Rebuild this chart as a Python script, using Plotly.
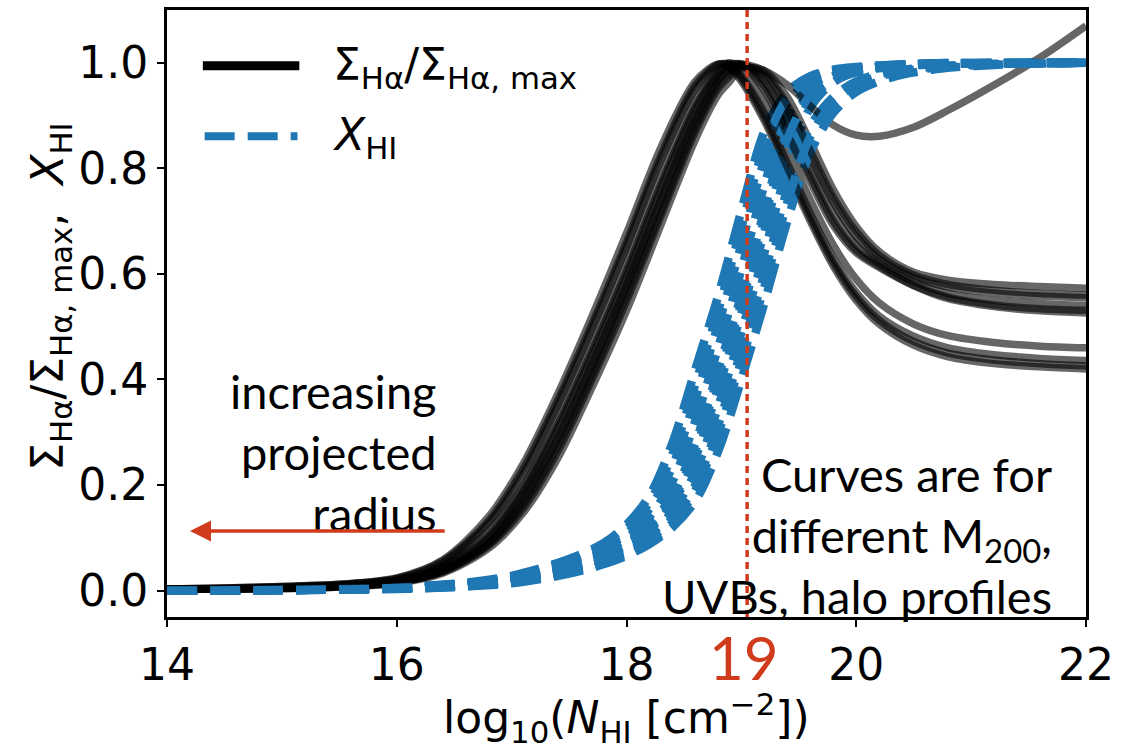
import plotly.graph_objects as go

# log10 column density grids
log_nhi_sigma = [14.0, 14.5, 15.0, 15.5, 16.0, 16.4, 16.8, 17.1, 17.4, 17.7, 18.0, 18.3, 18.6,
                 18.8, 18.9, 19.0, 19.2, 19.4, 19.6, 19.8, 20.0, 20.2, 20.5, 20.8, 21.2, 21.6, 22.0]
log_nhi_xhi = [14.0, 15.0, 16.0, 16.5, 17.0, 17.5, 17.8, 18.0, 18.2, 18.4, 18.6, 18.8, 19.0,
               19.2, 19.4, 19.6, 19.8, 20.0, 20.3, 20.7, 21.2, 22.0]

# normalised H-alpha surface brightness, one list per model
sigma_1 = [0.003, 0.005, 0.008, 0.012, 0.024, 0.058, 0.14, 0.24, 0.372, 0.52, 0.677, 0.84, 0.965,
           0.998, 0.99, 0.965, 0.89, 0.795, 0.70, 0.615, 0.55, 0.505, 0.465, 0.443, 0.43, 0.424, 0.42]
sigma_2 = [0.003, 0.004, 0.007, 0.011, 0.022, 0.053, 0.127, 0.22, 0.35, 0.495, 0.65, 0.815, 0.95,
           0.995, 0.998, 0.975, 0.905, 0.81, 0.715, 0.63, 0.565, 0.52, 0.482, 0.46, 0.447, 0.44, 0.436]
sigma_3 = [0.003, 0.004, 0.006, 0.01, 0.02, 0.047, 0.113, 0.2, 0.327, 0.47, 0.622, 0.787, 0.93,
           0.987, 1.0, 0.985, 0.925, 0.835, 0.74, 0.655, 0.59, 0.545, 0.505, 0.483, 0.47, 0.463, 0.46]
sigma_4 = [0.002, 0.003, 0.005, 0.009, 0.018, 0.042, 0.1, 0.185, 0.305, 0.445, 0.595, 0.76, 0.91,
           0.978, 0.995, 0.998, 0.955, 0.875, 0.785, 0.70, 0.645, 0.615, 0.578, 0.553, 0.538, 0.53, 0.526]
sigma_5 = [0.002, 0.003, 0.005, 0.008, 0.016, 0.039, 0.094, 0.175, 0.29, 0.43, 0.58, 0.743, 0.897,
           0.97, 0.99, 0.997, 0.965, 0.89, 0.80, 0.715, 0.655, 0.62, 0.585, 0.563, 0.55, 0.544, 0.54]
sigma_6 = [0.002, 0.003, 0.004, 0.008, 0.015, 0.036, 0.088, 0.163, 0.273, 0.41, 0.56, 0.72, 0.88,
           0.96, 0.982, 0.995, 0.975, 0.91, 0.82, 0.735, 0.67, 0.628, 0.593, 0.575, 0.564, 0.558, 0.555]
sigma_7 = [0.002, 0.003, 0.004, 0.007, 0.014, 0.033, 0.08, 0.147, 0.25, 0.385, 0.53, 0.693, 0.855,
           0.94, 0.965, 0.99, 0.985, 0.935, 0.85, 0.76, 0.69, 0.642, 0.603, 0.588, 0.58, 0.576, 0.573]
sigma_8 = [0.002, 0.003, 0.005, 0.008, 0.016, 0.038, 0.091, 0.17, 0.283, 0.42, 0.57, 0.733, 0.888,
           0.965, 0.987, 0.997, 0.985, 0.958, 0.918, 0.882, 0.863, 0.861, 0.878, 0.91, 0.958, 1.01, 1.07]
sigma_9 = [0.002, 0.003, 0.005, 0.009, 0.019, 0.044, 0.105, 0.192, 0.314, 0.455, 0.606, 0.77, 0.918,
           0.982, 0.997, 0.996, 0.948, 0.865, 0.775, 0.692, 0.64, 0.612, 0.578, 0.556, 0.541, 0.534, 0.531]
sigma_10 = [0.002, 0.003, 0.004, 0.007, 0.015, 0.035, 0.085, 0.155, 0.263, 0.4, 0.548, 0.71, 0.87,
            0.952, 0.975, 0.993, 0.98, 0.92, 0.833, 0.745, 0.68, 0.635, 0.598, 0.58, 0.569, 0.563, 0.56]
sigma_11 = [0.003, 0.005, 0.008, 0.012, 0.023, 0.056, 0.132, 0.23, 0.36, 0.505, 0.66, 0.825, 0.958,
            0.997, 0.995, 0.97, 0.897, 0.802, 0.707, 0.622, 0.557, 0.512, 0.472, 0.45, 0.437, 0.43, 0.426]

# neutral hydrogen fraction, one list per model
xhi_1 = [0.0, 0.002, 0.007, 0.013, 0.028, 0.06, 0.09, 0.125, 0.18, 0.28, 0.42, 0.56, 0.72,
         0.87, 0.945, 0.975, 0.987, 0.992, 0.996, 0.999, 1.0, 1.0]
xhi_2 = [0.0, 0.001, 0.006, 0.012, 0.025, 0.054, 0.08, 0.108, 0.155, 0.235, 0.365, 0.505, 0.655,
         0.815, 0.924, 0.966, 0.983, 0.99, 0.995, 0.998, 0.999, 1.0]
xhi_3 = [0.0, 0.001, 0.005, 0.011, 0.022, 0.049, 0.074, 0.099, 0.14, 0.207, 0.322, 0.462, 0.608,
         0.768, 0.897, 0.956, 0.979, 0.989, 0.995, 0.998, 0.999, 1.0]
xhi_4 = [0.0, 0.001, 0.005, 0.01, 0.02, 0.045, 0.068, 0.09, 0.125, 0.18, 0.28, 0.42, 0.56,
         0.72, 0.87, 0.945, 0.975, 0.987, 0.994, 0.998, 0.999, 1.0]
xhi_5 = [0.0, 0.001, 0.005, 0.009, 0.019, 0.042, 0.064, 0.084, 0.115, 0.165, 0.252, 0.385, 0.525,
         0.68, 0.835, 0.93, 0.969, 0.985, 0.993, 0.997, 0.999, 1.0]
xhi_6 = [0.0, 0.001, 0.004, 0.009, 0.018, 0.039, 0.06, 0.078, 0.105, 0.15, 0.225, 0.35, 0.49,
         0.64, 0.80, 0.915, 0.963, 0.982, 0.992, 0.997, 0.999, 1.0]
xhi_7 = [0.0, 0.001, 0.004, 0.008, 0.016, 0.036, 0.056, 0.073, 0.097, 0.137, 0.2, 0.315, 0.455,
         0.6, 0.76, 0.88, 0.935, 0.965, 0.983, 0.993, 0.998, 1.0]
xhi_8 = [0.0, 0.001, 0.003, 0.007, 0.014, 0.032, 0.05, 0.066, 0.088, 0.12, 0.17, 0.265, 0.4,
         0.545, 0.7, 0.83, 0.905, 0.945, 0.972, 0.988, 0.996, 1.0]
xhi_9 = [0.0, 0.002, 0.006, 0.012, 0.026, 0.057, 0.085, 0.117, 0.168, 0.258, 0.392, 0.532, 0.688,
         0.842, 0.933, 0.97, 0.985, 0.991, 0.996, 0.999, 1.0, 1.0]
xhi_10 = [0.0, 0.001, 0.005, 0.01, 0.02, 0.044, 0.066, 0.087, 0.12, 0.171, 0.266, 0.406, 0.544,
          0.704, 0.856, 0.939, 0.973, 0.986, 0.994, 0.998, 0.999, 1.0]
xhi_11 = [0.0, 0.001, 0.004, 0.007, 0.015, 0.034, 0.052, 0.07, 0.092, 0.128, 0.19, 0.3, 0.435,
          0.575, 0.735, 0.86, 0.925, 0.958, 0.98, 0.991, 0.997, 1.0]

x_ticks = [14, 16, 18, 20, 22]
y_ticks = [0.0, 0.2, 0.4, 0.6, 0.8, 1.0]
nhi_threshold = 19.05
threshold_label = "19"

sigma_models = [sigma_1, sigma_2, sigma_3, sigma_4, sigma_5, sigma_6, sigma_7, sigma_8,
                sigma_9, sigma_10, sigma_11]
xhi_models = [xhi_1, xhi_2, xhi_3, xhi_4, xhi_5, xhi_6, xhi_7, xhi_8, xhi_9, xhi_10, xhi_11]

BLUE = "#1f77b4"
RED = "#cf3b1b"
SANS = "DejaVu Sans"
LATO = "Lato"

fig = go.Figure()
for sig, xhi in zip(sigma_models, xhi_models):
    fig.add_trace(go.Scatter(
        x=log_nhi_sigma, y=sig, mode="lines", showlegend=False, hoverinfo="skip",
        line=dict(color="rgba(0,0,0,0.6)", width=7.5, shape="spline", smoothing=0.9)))
    fig.add_trace(go.Scatter(
        x=log_nhi_xhi, y=xhi, mode="lines", showlegend=False, hoverinfo="skip",
        line=dict(color=BLUE, width=8.5, dash="30px,13px", shape="spline", smoothing=0.9)))

# vertical marker at the threshold column density
fig.add_shape(type="line", xref="x", yref="paper", x0=nhi_threshold, x1=nhi_threshold,
              y0=0, y1=1, line=dict(color=RED, width=3.5, dash="7px,5px"))

# hand-drawn legend
fig.add_shape(type="line", xref="paper", yref="paper", x0=0.039, x1=0.144, y0=0.908, y1=0.908,
              line=dict(color="black", width=9))
fig.add_shape(type="line", xref="paper", yref="paper", x0=0.041, x1=0.142, y0=0.792, y1=0.792,
              line=dict(color=BLUE, width=8, dash="30px,13px"))
fig.add_annotation(xref="paper", yref="paper", x=0.178, y=0.905, xanchor="left", yanchor="middle",
                   text="Σ<sub>Hα</sub>/Σ<sub>Hα, max</sub>", showarrow=False,
                   font=dict(family=SANS, size=44, color="black"))
fig.add_annotation(xref="paper", yref="paper", x=0.178, y=0.79, xanchor="left", yanchor="middle",
                   text="<i>X</i><sub>HI</sub>", showarrow=False,
                   font=dict(family=SANS, size=44, color="black"))

# text notes
fig.add_annotation(xref="x", yref="y", x=16.37, y=0.262, xanchor="right", yanchor="middle",
                   align="right", text="increasing<br>projected<br>radius", showarrow=False,
                   font=dict(family=LATO, size=47, color="black"))
fig.add_annotation(xref="x", yref="y", x=14.2, y=0.113, ax=16.43, ay=0.113, axref="x", ayref="y",
                   text="", showarrow=True, arrowhead=2, arrowsize=1.2, arrowwidth=3.5,
                   arrowcolor=RED)
fig.add_annotation(xref="x", yref="y", x=21.72, y=0.105, xanchor="right", yanchor="middle",
                   align="right",
                   text="Curves are for<br>different M<sub>200</sub>,<br>UVBs, halo profiles",
                   showarrow=False, font=dict(family=LATO, size=47, color="black"))

# highlighted tick label
fig.add_annotation(xref="x", yref="paper", x=19.02, y=-0.003, xanchor="center", yanchor="top",
                   text=threshold_label, showarrow=False,
                   font=dict(family=LATO, size=60, color=RED))

# axis titles
fig.add_annotation(xref="paper", yref="paper", x=0.5, y=-0.166, xanchor="center", yanchor="middle",
                   text="log<sub>10</sub>(<i>N</i><sub>HI</sub> [cm<sup>−2</sup>])", showarrow=False,
                   font=dict(family=SANS, size=44, color="black"))
fig.add_annotation(xref="paper", yref="paper", x=-0.127, y=0.528, xanchor="center", yanchor="middle",
                   textangle=-90, text="Σ<sub>Hα</sub>/Σ<sub>Hα, max</sub>,  <i>X</i><sub>HI</sub>",
                   showarrow=False, font=dict(family=SANS, size=44, color="black"))

axis_common = dict(showline=True, linecolor="black", linewidth=3, mirror=True, showgrid=False,
                   zeroline=False, ticks="outside", ticklen=7, tickwidth=2, tickcolor="black",
                   tickfont=dict(family=SANS, size=44, color="black"))
fig.update_xaxes(range=[14, 22], tickvals=x_ticks, ticktext=[str(t) for t in x_ticks], **axis_common)
fig.update_yaxes(range=[-0.05, 1.1], tickvals=y_ticks, ticktext=[f"{t:.1f}" for t in y_ticks],
                 **axis_common)

fig.update_layout(width=1121, height=748, margin=dict(l=167, r=31, t=7, b=131),
                  paper_bgcolor="white", plot_bgcolor="white")

fig.write_html("out.html")
